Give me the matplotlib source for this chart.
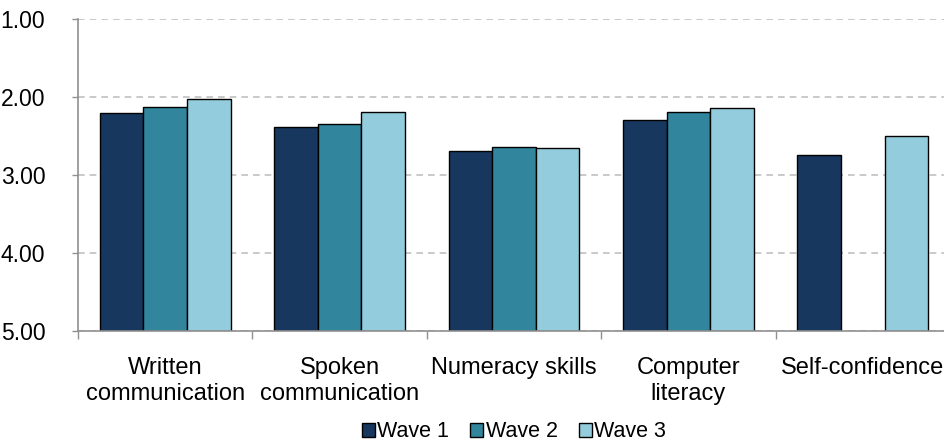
import numpy as np
import matplotlib
matplotlib.use('Agg')
import matplotlib.pyplot as plt

categories = ['Written\ncommunication', 'Spoken\ncommunication', 'Numeracy skills',
              'Computer\nliteracy', 'Self-confidence']
wave1 = [2.20, 2.38, 2.69, 2.30, 2.74]
wave2 = [2.13, 2.35, 2.645, 2.19, np.nan]
wave3 = [2.03, 2.19, 2.65, 2.14, 2.50]
series = ['Wave 1', 'Wave 2', 'Wave 3']
colors = ['#17375e', '#31859c', '#93cddd']

plt.rcParams['font.family'] = ['Liberation Sans', 'DejaVu Sans']

fig = plt.figure(figsize=(9.45, 4.44), dpi=100)
ax = fig.add_axes([78 / 945, 113 / 444, 872 / 945, 312 / 444])

x = np.arange(len(categories))
w = 0.25
for i, (vals, name, c) in enumerate(zip([wave1, wave2, wave3], series, colors)):
    v = np.array(vals, dtype=float)
    ax.bar(x + (i - 1) * w, v - 5, bottom=5, width=w, color=c,
           edgecolor='black', linewidth=1, label=name, zorder=3)

ax.set_ylim(5, 1)
ax.set_xlim(-0.5, len(categories) - 0.5)
ax.set_yticks([1, 2, 3, 4, 5])
ax.set_yticklabels(['%.2f' % t for t in [1, 2, 3, 4, 5]], fontsize=16.5)
ax.yaxis.grid(True, linestyle=(0, (4, 3)), color='#c0c0c0', linewidth=1.2, zorder=0)

ax.set_xticks(x)
ax.set_xticklabels(categories, fontsize=17, linespacing=1.2)
ax.tick_params(axis='x', which='major', length=0, pad=19)
ax.set_xticks(np.arange(-0.5, len(categories)), minor=True)
ax.tick_params(axis='x', which='minor', length=6, color='#909090', width=1)
ax.tick_params(axis='y', length=4.5, color='#909090', width=1, pad=19)

for s in ['top', 'right']:
    ax.spines[s].set_visible(False)
for s in ['left', 'bottom']:
    ax.spines[s].set_color('#909090')
    ax.spines[s].set_linewidth(1.2)
ax.spines['bottom'].set_zorder(4)

fig.legend(loc='lower center', bbox_to_anchor=(514 / 945, -0.04), ncol=3, frameon=False,
           fontsize=15.5, handlelength=0.6, handleheight=0.6, handletextpad=0.1,
           columnspacing=1.0)

fig.savefig('out.png', dpi=100)
